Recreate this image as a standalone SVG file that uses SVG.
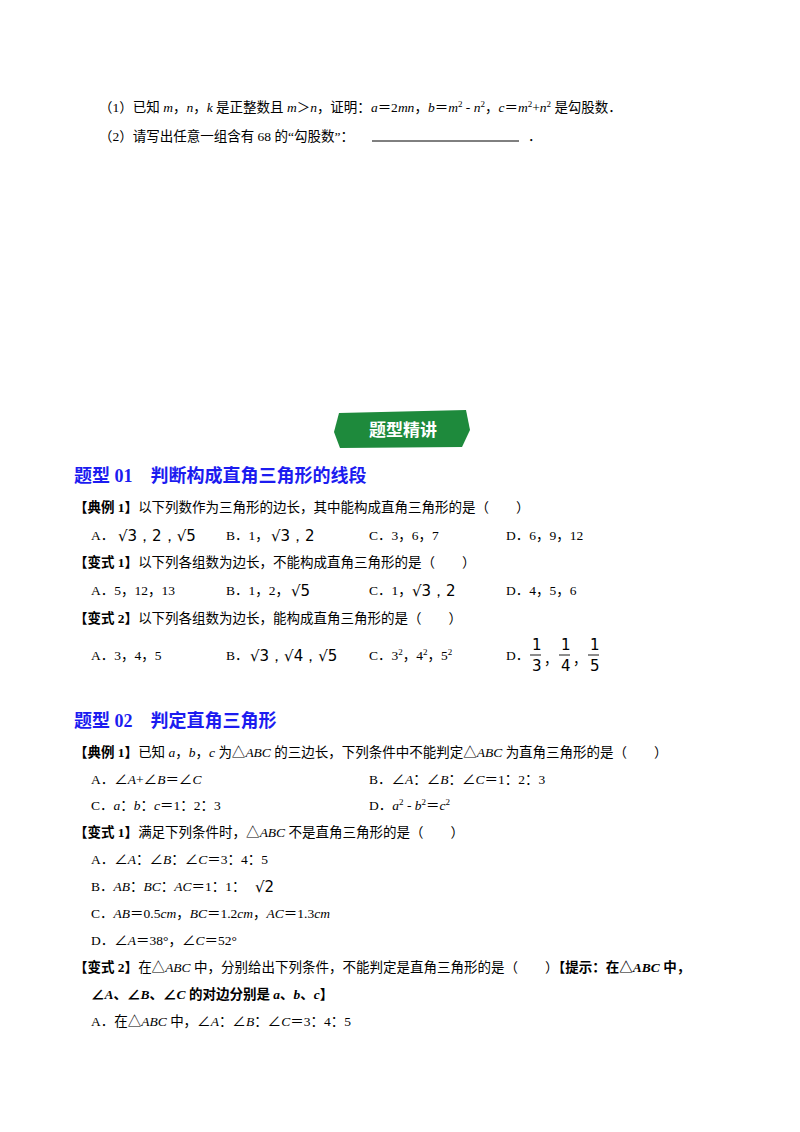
<svg xmlns="http://www.w3.org/2000/svg" width="800" height="1132" viewBox="0 0 800 1132">
<style>
text{font-family:"Liberation Serif","Noto Sans CJK SC",serif;font-size:13.5px;fill:#000}
.h{font-size:18px;font-weight:bold;fill:#1c1cf0}
.b{font-weight:bold}
.i{font-style:italic}
.s{font-family:"DejaVu Sans",sans-serif;font-size:15px}
.ov{stroke:#000;stroke-width:0.9}
</style>
<rect width="800" height="1132" fill="#fff"/>
<text x="99" y="112">（1）已知 <tspan class="i">m</tspan>，<tspan class="i">n</tspan>，<tspan class="i">k</tspan> 是正整数且 <tspan class="i">m</tspan>＞<tspan class="i">n</tspan>，证明：<tspan class="i">a</tspan>＝2<tspan class="i">mn</tspan>，<tspan class="i">b</tspan>＝<tspan class="i">m</tspan><tspan font-size="9" dy="-5">2</tspan><tspan dy="5"> - </tspan><tspan class="i">n</tspan><tspan font-size="9" dy="-5">2</tspan><tspan dy="5">，</tspan><tspan class="i">c</tspan>＝<tspan class="i">m</tspan><tspan font-size="9" dy="-5">2</tspan><tspan dy="5">+</tspan><tspan class="i">n</tspan><tspan font-size="9" dy="-5">2</tspan><tspan dy="5"> 是勾股数．</tspan></text>
<text x="99" y="141">（2）请写出任意一组含有 68 的“勾股数”：</text>
<line x1="372" y1="141" x2="519" y2="141" stroke="#000" stroke-width="1"/>
<text x="528" y="141">．</text>
<g id="banner">
<path d="M339,413 L466,410 L470,430 L462,447 L340,448 L334,432 Z" fill="#1e8a3c"/>
<text x="403" y="436" text-anchor="middle" style="font-family:'Noto Sans CJK SC',sans-serif;font-size:17px;font-weight:bold;fill:#fff">题型精讲</text>
</g>
<text class="h" x="74" y="482">题型 01　判断构成直角三角形的线段</text>
<text x="74" y="512"><tspan class="b">【典例 1】</tspan>以下列数作为三角形的边长，其中能构成直角三角形的是（　　）</text>
<text x="91" y="540">A．</text>
<text class="s" x="118" y="541">√3，2，√5</text>
<text x="226" y="540">B．1，</text>
<text class="s" x="271" y="541">√3，2</text>
<text x="369" y="540">C．3，6，7</text>
<text x="506" y="540">D．6，9，12</text>
<text x="74" y="567"><tspan class="b">【变式 1】</tspan>以下列各组数为边长，不能构成直角三角形的是（　　）</text>
<text x="91" y="595">A．5，12，13</text>
<text x="226" y="595">B．1，2，</text>
<text class="s" x="291" y="596">√5</text>
<text x="369" y="595">C．1，</text>
<text class="s" x="412" y="596">√3，2</text>
<text x="506" y="595">D．4，5，6</text>
<text x="74" y="623"><tspan class="b">【变式 2】</tspan>以下列各组数为边长，能构成直角三角形的是（　　）</text>
<text x="91" y="660">A．3，4，5</text>
<text x="226" y="660">B．</text>
<text class="s" x="250" y="661">√3，√4，√5</text>
<text x="369" y="660">C．3<tspan font-size="9" dy="-5">2</tspan><tspan dy="5">，4</tspan><tspan font-size="9" dy="-5">2</tspan><tspan dy="5">，5</tspan><tspan font-size="9" dy="-5">2</tspan></text>
<text x="506" y="660">D．</text>
<g font-size="14">
<text x="532" y="650" class="s">1</text><line class="ov" x1="530" y1="655" x2="541" y2="655"/><text x="532" y="671" class="s">3</text>
<text x="544" y="664">，</text>
<text x="561" y="650" class="s">1</text><line class="ov" x1="559" y1="655" x2="570" y2="655"/><text x="561" y="671" class="s">4</text>
<text x="573" y="664">，</text>
<text x="590" y="650" class="s">1</text><line class="ov" x1="588" y1="655" x2="599" y2="655"/><text x="590" y="671" class="s">5</text>
</g>
<text class="h" x="74" y="727">题型 02　判定直角三角形</text>
<text x="74" y="757"><tspan class="b">【典例 1】</tspan>已知 <tspan class="i">a</tspan>，<tspan class="i">b</tspan>，<tspan class="i">c</tspan> 为△<tspan class="i">ABC</tspan> 的三边长，下列条件中不能判定△<tspan class="i">ABC</tspan> 为直角三角形的是（　　）</text>
<text x="91" y="784">A．∠<tspan class="i">A</tspan>+∠<tspan class="i">B</tspan>＝∠<tspan class="i">C</tspan></text>
<text x="369" y="784">B．∠<tspan class="i">A</tspan>：∠<tspan class="i">B</tspan>：∠<tspan class="i">C</tspan>＝1：2：3</text>
<text x="91" y="810">C．<tspan class="i">a</tspan>：<tspan class="i">b</tspan>：<tspan class="i">c</tspan>＝1：2：3</text>
<text x="369" y="810">D．<tspan class="i">a</tspan><tspan font-size="9" dy="-5">2</tspan><tspan dy="5"> - </tspan><tspan class="i">b</tspan><tspan font-size="9" dy="-5">2</tspan><tspan dy="5">＝</tspan><tspan class="i">c</tspan><tspan font-size="9" dy="-5">2</tspan></text>
<text x="74" y="837"><tspan class="b">【变式 1】</tspan>满足下列条件时，△<tspan class="i">ABC</tspan> 不是直角三角形的是（　　）</text>
<text x="91" y="864">A．∠<tspan class="i">A</tspan>：∠<tspan class="i">B</tspan>：∠<tspan class="i">C</tspan>＝3：4：5</text>
<text x="91" y="891">B．<tspan class="i">AB</tspan>：<tspan class="i">BC</tspan>：<tspan class="i">AC</tspan>＝1：1：</text>
<text class="s" x="255" y="892">√2</text>
<text x="91" y="918">C．<tspan class="i">AB</tspan>＝0.5<tspan class="i">cm</tspan>，<tspan class="i">BC</tspan>＝1.2<tspan class="i">cm</tspan>，<tspan class="i">AC</tspan>＝1.3<tspan class="i">cm</tspan></text>
<text x="91" y="945">D．∠<tspan class="i">A</tspan>＝38°，∠<tspan class="i">C</tspan>＝52°</text>
<text x="74" y="972"><tspan class="b">【变式 2】</tspan>在△<tspan class="i">ABC</tspan> 中，分别给出下列条件，不能判定是直角三角形的是（　　）<tspan class="b">【提示：在△<tspan class="i">ABC</tspan> 中，</tspan></text>
<text x="91" y="999" class="b">∠<tspan class="i">A</tspan>、∠<tspan class="i">B</tspan>、∠<tspan class="i">C</tspan> 的对边分别是 <tspan class="i">a</tspan>、<tspan class="i">b</tspan>、<tspan class="i">c</tspan>】</text>
<text x="91" y="1026">A．在△<tspan class="i">ABC</tspan> 中，∠<tspan class="i">A</tspan>：∠<tspan class="i">B</tspan>：∠<tspan class="i">C</tspan>＝3：4：5</text>
</svg>
